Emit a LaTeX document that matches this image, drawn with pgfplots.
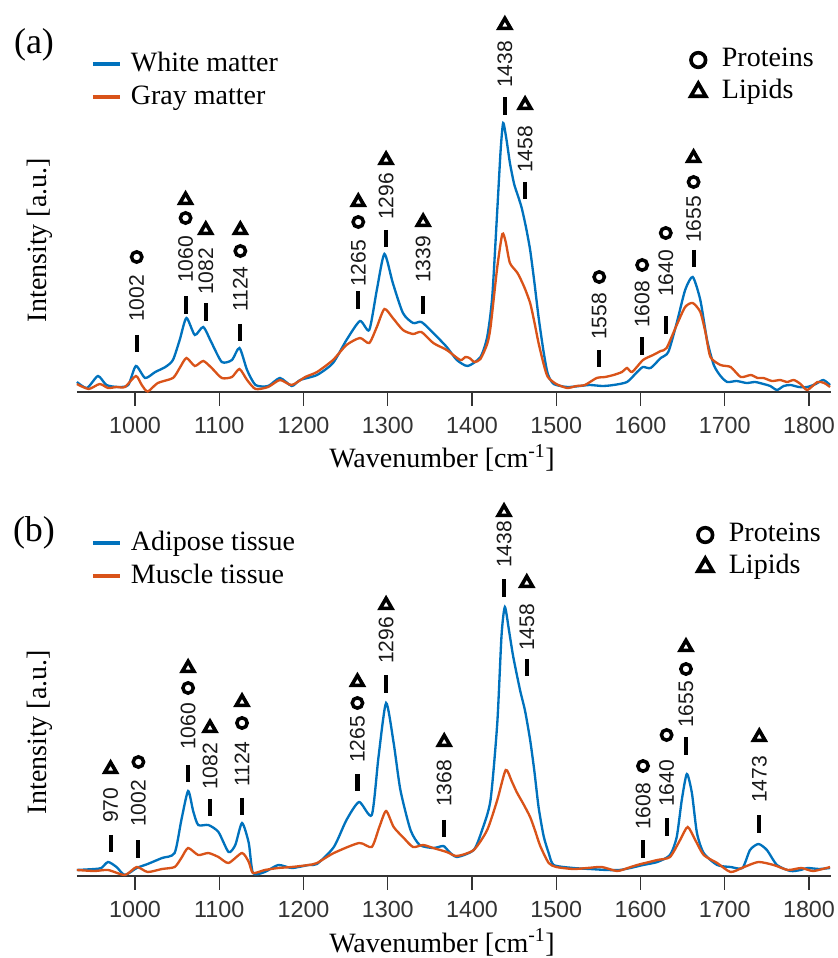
\documentclass[border=0pt]{standalone}
\usepackage{pgfplots}
\pgfplotsset{compat=1.18}
\usepackage{pgfplotstable}
\usepackage{fontspec}
\setmainfont{Liberation Serif}
\newfontfamily\arial{Liberation Sans}
\definecolor{mblue}{HTML}{0072BD}
\definecolor{morange}{HTML}{D95319}
\definecolor{axgray}{HTML}{333333}

\pgfplotstableread{
x y
931 10
943 4
956 16
966 7
980 5
992 7
1001 26
1012 14
1024 20
1036 25
1045 32
1053 52
1061 74
1071 57
1081 65
1091 49
1103 30
1115 32
1124 44
1133 22
1143 7
1158 6
1172 14
1186 6
1196 12
1216 17
1235 29
1251 52
1267 71
1278 62
1287 102
1296 138
1306 109
1318 79
1330 69
1340 70
1354 59
1370 45
1382 32
1395 26
1410 35
1418 55
1424 95
1430 182
1434 242
1437 269
1441 252
1445 229
1450 208
1455 195
1459 184
1464 165
1469 142
1474 110
1479 75
1485 40
1490 18
1497 8
1513 5
1528 6
1540 7
1555 6
1568 7
1584 10
1596 20
1603 25
1612 24
1624 34
1633 40
1643 69
1653 102
1662 115
1671 92
1679 52
1687 27
1695 16
1703 10
1714 11
1726 9
1736 10
1746 8
1754 6
1762 2
1770 6
1778 7
1788 5
1798 5
1808 8
1817 12
1825 7
}\wmdata

\pgfplotstableread{
x y
931 8
945 3
958 8
968 4
978 5
988 5
1001 16
1008 7
1015 0.5
1027 9
1045 14
1053 24
1061 34
1071 26
1081 31
1091 24
1103 14
1115 15
1124 23
1133 12
1143 3
1158 5
1172 12
1186 7
1202 15
1216 20
1235 32
1251 47
1267 54
1278 49
1287 65
1296 83
1306 74
1318 62
1330 58
1340 60
1354 49
1370 42
1386 32
1392 35
1397 34
1403 30
1410 33
1418 48
1422 65
1430 125
1436 158
1440 150
1445 129
1454 119
1462 105
1469 89
1474 70
1479 49
1485 28
1490 15
1500 8
1513 4
1524 6
1534 7
1548 14
1558 15
1568 17
1578 20
1584 24
1590 20
1603 32
1615 37
1624 41
1631 44
1643 67
1653 85
1662 89
1671 80
1677 60
1683 35
1695 27
1707 25
1719 15
1731 17
1739 14
1746 14
1756 11
1766 12
1774 10
1782 12
1790 8
1798 2
1810 10
1818 9
1825 5
}\gmdata

\pgfplotstableread{
x y
931 6
952 7
960 8
968 14
978 9
988 1
1002 8
1015 12
1032 18
1047 23
1055 56
1063 85
1069 65
1075 51
1087 51
1099 44
1111 24
1119 31
1127 53
1135 33
1140 3
1154 4
1170 11
1186 8
1206 11
1216 12
1236 29
1251 56
1266 74
1281 61
1289 119
1298 173
1307 133
1315 86
1327 46
1338 31
1354 28
1366 30
1372 25
1382 19
1402 26
1412 46
1422 76
1430 153
1435 240
1439 269
1444 245
1449 219
1457 186
1463 165
1469 136
1474 105
1479 69
1485 40
1491 23
1497 11
1520 8
1540 7
1560 6
1575 6
1588 8
1603 11
1620 14
1635 21
1643 39
1649 76
1655 102
1661 83
1667 43
1675 23
1691 11
1707 9
1721 8
1730 26
1740 32
1750 26
1762 11
1778 5
1790 6
1798 8
1812 7
1825 8
}\adidata

\pgfplotstableread{
x y
931 6
952 5
968 6
988 1
1002 9
1015 4
1032 7
1047 9
1055 18
1063 28
1075 21
1087 23
1099 19
1111 13
1127 23
1135 14
1140 3
1154 6
1170 8
1186 9
1206 11
1216 13
1236 23
1266 33
1281 29
1290 49
1298 65
1307 49
1319 38
1330 29
1342 31
1354 28
1370 24
1382 20
1402 26
1418 46
1430 76
1440 106
1447 95
1453 84
1461 72
1469 59
1475 45
1481 30
1491 13
1500 9
1520 7
1537 8
1554 9
1572 5
1585 8
1596 11
1620 16
1635 19
1647 36
1656 49
1665 36
1675 21
1691 13
1707 4
1723 9
1740 14
1758 11
1775 6
1791 8
1805 5
1825 9
}\musdata

\pgfplotstableread{
name x bar lab circ tri
1002 1002 48.5 70 135 nan
1060 1060 87 109 174 192
1082 1084 80 97 nan 162
1124 1125 59.5 80 141 162
1265 1265 92 105 170 190
1296 1298 153.5 172 nan 232
1339 1342 87 109 nan 170
1438 1439 286 304 nan 367
1458 1463 201.5 219 nan 287
1558 1551 33.5 52 115 nan
1608 1602 46 64 127 nan
1640 1630 67 95 159 nan
1655 1663 133.5 149 210 234
}\annA

\pgfplotstableread{
name x bar lab circ tri
970 971 32.5 53 nan 107
1002 1004 27 49 114 nan
1060 1063 102.5 126 188 208
1082 1089 68.5 86 nan 148
1124 1127 69.5 89 153 174
1265 1264 93.5 113 173 194
1296 1298 192 212 nan 271
1368 1367 47.5 69 nan 134
1438 1438 288 308 nan 364
1458 1465 208.5 225 nan 293
1608 1603 27 46 110 nan
1640 1631 49 69 141 nan
1655 1654 130 148 207 229
1473 1741 52 73 nan 139
}\annB

\pgfplotsset{
  spec/.style={
    scale only axis, width=565.5pt, height=285pt,
    xmin=931, xmax=1826, ymin=0, ymax=380,
    axis x line=bottom, axis y line=none,
    axis line style={-, draw=axgray, line width=0.9pt},
    xtick={1000,1100,1200,1300,1400,1500,1600,1700,1800},
    xticklabels={1000,1100,1200,1300,1400,1500,1600,1700,1800},
    xtick align=outside, major tick length=10.5pt,
    tick style={draw=axgray, line width=0.9pt},
    xticklabel style={font=\arial\fontsize{17.5}{20}\selectfont, text=axgray, yshift=-4.7pt},
    ytick=\empty, clip=false,
  },
  hid/.style={
    scale only axis, width=565.5pt, height=285pt,
    xmin=931, xmax=1826, ymin=0, ymax=380, hide axis, clip=false,
  },
  serleg/.style={
    legend style={draw=none, fill=none, inner sep=0pt, outer sep=0pt,
      row sep=0pt, column sep=0pt,
      font=\fontsize{21}{25}\selectfont,
      nodes={inner sep=0pt, text height=16pt, text depth=8.75pt, anchor=base west}},
    legend cell align=left,
    legend image code/.code={\draw[##1, line width=2.6pt] (0pt,5.8pt) -- (20.25pt,5.8pt); \path (0pt,0pt) (27.75pt,0pt);},
  },
  markleg/.style={
    legend style={draw=none, fill=none, inner sep=0pt, outer sep=0pt,
      row sep=0pt, column sep=0pt,
      font=\fontsize{21}{25}\selectfont,
      nodes={inner sep=0pt, text height=16pt, text depth=8pt, anchor=base west}},
    legend cell align=left,
    legend image code/.code={\draw[##1] plot coordinates {(7pt,4.5pt)}; \path (0pt,0pt) (24.5pt,0pt);},
  },
}

\newcommand{\drawann}[1]{%
  \addplot[only marks, mark=|, mark size=6.4pt, mark options={line width=3.1pt, black}] table[x=x, y=bar] {#1};
  \addplot[only marks, mark=o, mark size=3.9pt, mark options={line width=2.6pt, black}] table[x=x, y=circ] {#1};
  \addplot[only marks, mark=triangle, mark size=5pt, mark options={line width=2.7pt, black, line join=miter}] table[x=x, y=tri] {#1};
  \addplot[draw=none, mark=none, nodes near coords, point meta=explicit symbolic,
    nodes near coords align={anchor=west},
    every node near coord/.style={rotate=90, anchor=west, inner sep=0pt, font=\arial\fontsize{15.8}{18}\selectfont, text=black!90}]
    table[x=x, y=lab, meta=name] {#1};
}

\begin{document}
\begin{tikzpicture}
\useasboundingbox (0,0) rectangle (628.5pt,718.5pt);

% ---------------- panel (a)
\begin{axis}[spec, serleg, at={(57.675pt,424.5pt)}, anchor=south west,
  legend style={at={(axis cs:947.8,341.6)}, anchor=north west}]
\addplot[mblue, line width=1.75pt, smooth, tension=0.4] table[x=x,y=y] {\wmdata};
\addlegendentry{White matter}
\addplot[morange, line width=1.75pt, smooth, tension=0.4] table[x=x,y=y] {\gmdata};
\addlegendentry{Gray matter}
\drawann{\annA}
\end{axis}
\begin{axis}[hid, markleg, at={(57.675pt,424.5pt)}, anchor=south west,
  legend style={at={(axis cs:1657.2,347.3)}, anchor=north west}]
\addlegendimage{only marks, mark=o, mark size=5.5pt, mark options={line width=2.7pt, black}}
\addlegendentry{Proteins}
\addlegendimage{only marks, mark=triangle, mark size=6.5pt, mark options={line width=2.8pt, black, line join=miter}}
\addlegendentry{Lipids}
\end{axis}

% ---------------- panel (b)
\begin{axis}[spec, serleg, at={(57.675pt,61.5pt)}, anchor=south west,
  legend style={at={(axis cs:947.8,346.6)}, anchor=north west}]
\addplot[mblue, line width=1.75pt, smooth, tension=0.4] table[x=x,y=y] {\adidata};
\addlegendentry{Adipose tissue}
\addplot[morange, line width=1.75pt, smooth, tension=0.4] table[x=x,y=y] {\musdata};
\addlegendentry{Muscle tissue}
\drawann{\annB}
\end{axis}
\begin{axis}[hid, markleg, at={(57.675pt,61.5pt)}, anchor=south west,
  legend style={at={(axis cs:1665.5,356.3)}, anchor=north west}]
\addlegendimage{only marks, mark=o, mark size=5.5pt, mark options={line width=2.7pt, black}}
\addlegendentry{Proteins}
\addlegendimage{only marks, mark=triangle, mark size=6.5pt, mark options={line width=2.8pt, black, line join=miter}}
\addlegendentry{Lipids}
\end{axis}

% ---------------- texts
\node[font=\fontsize{27}{30}\selectfont] at (25.5pt,684.75pt) {(a)};
\node[font=\fontsize{27}{30}\selectfont] at (25.5pt,318.75pt) {(b)};
\node[rotate=90, font=\fontsize{21}{25}\selectfont] at (30pt,538.5pt) {Intensity [a.u.]};
\node[rotate=90, font=\fontsize{21}{25}\selectfont] at (30pt,169.5pt) {Intensity [a.u.]};
\node[anchor=base, font=\fontsize{21}{25}\selectfont] at (331.5pt,367.5pt) {Wavenumber [cm\textsuperscript{-1}]};
\node[anchor=base, font=\fontsize{21}{25}\selectfont] at (331.5pt,4.5pt) {Wavenumber [cm\textsuperscript{-1}]};
\end{tikzpicture}
\end{document}
